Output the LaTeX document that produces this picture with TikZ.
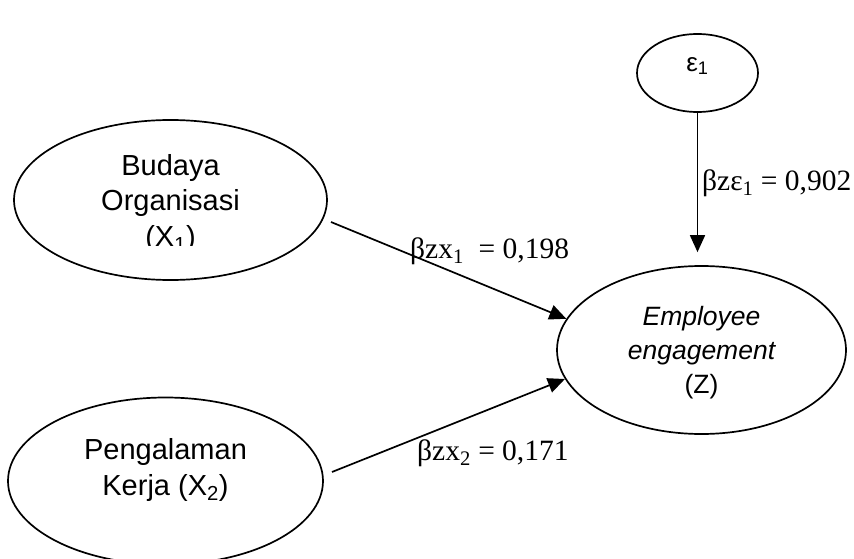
\documentclass[tikz,border=0pt]{standalone}
\usepackage{fontspec}
\setmainfont{Liberation Serif}
\newfontfamily\arial{Liberation Sans}
\usetikzlibrary{shapes.geometric,arrows.meta}
\tikzset{
  latent/.style={draw, ellipse, line width=1.7pt, inner sep=0pt},
  vtext/.style={align=center, inner sep=0pt, font=\arial\fontsize{29}{35.5}\selectfont},
  etext/.style={align=center, inner sep=0pt, font=\arial\fontsize{26.5}{34}\selectfont},
  coef/.style={anchor=base west, inner sep=0pt, font=\fontsize{29.5}{33}\selectfont},
  arr/.style={line width=1.7pt, -{Triangle[length=17pt,width=15pt]}}
}
\begin{document}
\begin{tikzpicture}[x=1pt,y=-1pt]
\useasboundingbox (0,0) rectangle (854,559);
% ellipses
\node[latent, minimum width=313pt, minimum height=160pt] (bud) at (170.5,200) {};
\node[latent, minimum width=315pt, minimum height=167pt] (pen) at (165.5,481) {};
\node[latent, minimum width=289pt, minimum height=168pt] (emp) at (701.5,350) {};
\node[latent, minimum width=121pt, minimum height=78pt] (eps) at (697.5,73) {};
% texts
\begin{scope}
\clip (0,0) rectangle (854,245);
\node[vtext] (budtext) at (170.5,203) {Budaya\\Organisasi\\(X\textsubscript{1})};
\end{scope}
\node[vtext] (pentext) at (165.5,470) {Pengalaman\\Kerja (X\textsubscript{2})};
\node[etext] (emptext) at (701.5,353) {\itshape Employee\\\itshape engagement\\(Z)};
\node[font=\arial\fontsize{26}{30}\selectfont, inner sep=0pt] (epstext) at (697.5,66) {ε\textsubscript{1}};
% free ends
\coordinate (s1) at (331,222);
\coordinate (s2) at (332,472);
% arrows
\draw[arr] (s1) -- (emp.167);
\draw[arr] (s2) -- (emp.192);
\draw[arr, shorten >=13pt] (eps.south) -- (eps.south |- emp.north);
% coefficients
\node[coef] (c1) at (410,258) {βzx\textsubscript{1}\ \ = 0,198};
\node[coef] (c2) at (417,460) {βzx\textsubscript{2} = 0,171};
\node[coef] (c3) at (702,190) {βzε\textsubscript{1} = 0,902};
\end{tikzpicture}
\end{document}
